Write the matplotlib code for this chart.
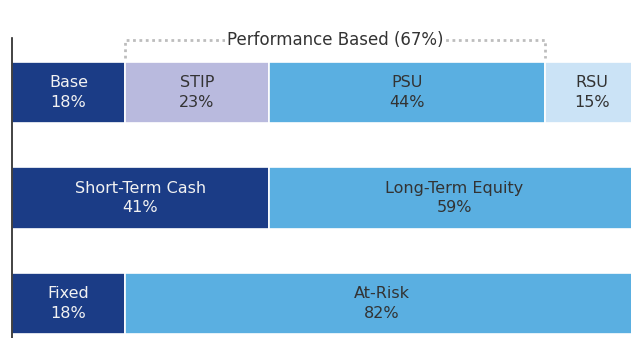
import matplotlib.pyplot as plt

# Pay mix rows, top to bottom
row1_labels = ['Base', 'STIP', 'PSU', 'RSU']
row1_values = [18, 23, 44, 15]
row2_labels = ['Short-Term Cash', 'Long-Term Equity']
row2_values = [41, 59]
row3_labels = ['Fixed', 'At-Risk']
row3_values = [18, 82]

perf_label = 'Performance Based (67%)'
perf_start = 18
perf_end = 85

NAVY = '#1b3c86'
LAVENDER = '#b9bade'
BLUE = '#5aafe1'
PALE = '#cbe3f6'

rows = [
    (row1_labels, row1_values, [NAVY, LAVENDER, BLUE, PALE]),
    (row2_labels, row2_values, [NAVY, BLUE]),
    (row3_labels, row3_values, [NAVY, BLUE]),
]

fig = plt.figure(figsize=(6.31, 3.38), dpi=100)
ax = fig.add_axes([0, 0, 1, 1])
ax.set_xlim(-1.91, 98.7)
ax.set_ylim(2.327, -0.877)
ax.axis('off')

bar_h = 0.58
for i, (labels, values, colors) in enumerate(rows):
    left = 0
    for lab, val, col in zip(labels, values, colors):
        ax.barh(i, val, left=left, height=bar_h, color=col,
                edgecolor='white', linewidth=1.2)
        txt_col = '#f2f2f2' if col == NAVY else '#333333'
        ax.text(left + val / 2, i, f'{lab}\n{val}%', ha='center', va='center',
                fontsize=11.5, color=txt_col, linespacing=1.35)
        left += val

# vertical axis line on the left
ax.plot([0, 0], [-0.517, 2.327], color='#222222', lw=1.2, clip_on=False)

# dotted bracket over the performance-based segments
dot = dict(color='#bdbdbd', lw=2, linestyle=(0, (1, 1.3)))
yb, yl = -0.50, -0.33
ax.plot([perf_start, perf_start, perf_end, perf_end], [yl, yb, yb, yl], **dot)
ax.text((perf_start + perf_end) / 2, yb, perf_label, ha='center', va='center',
        fontsize=12, color='#333333',
        bbox=dict(facecolor='white', edgecolor='none', pad=1))

fig.savefig('out.png', dpi=100)
